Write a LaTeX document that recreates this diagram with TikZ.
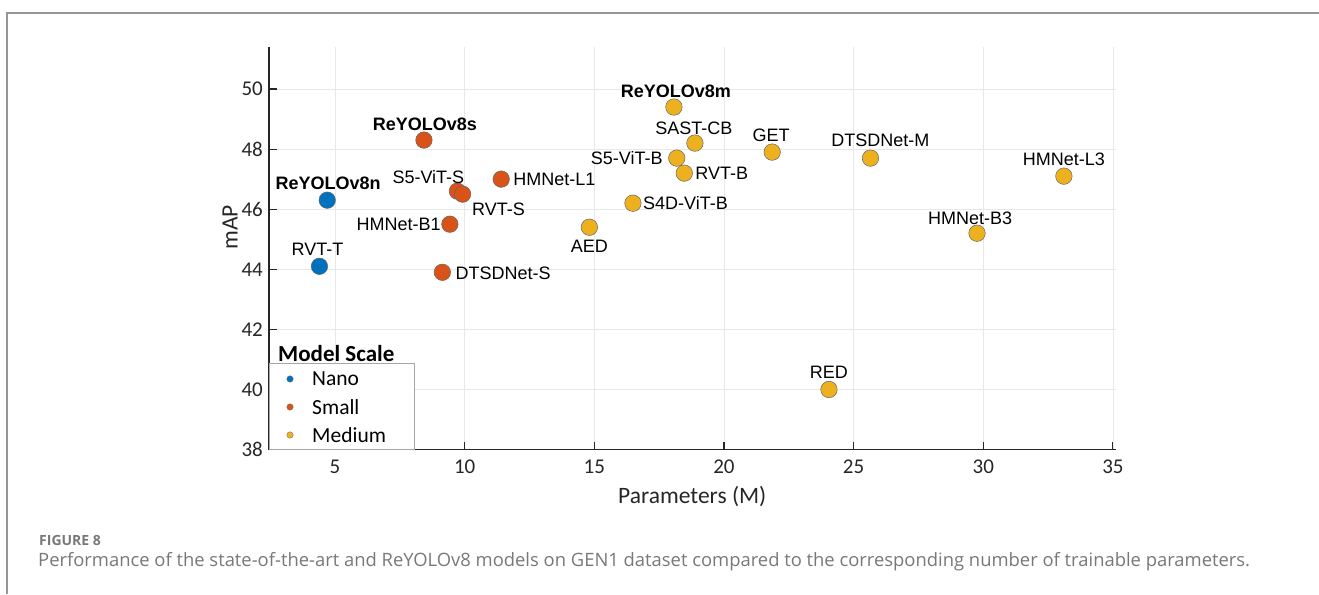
\documentclass[tikz,border=0pt]{standalone}
\usepackage{fontspec}
\usetikzlibrary{calc}
\newfontfamily\labfont{Liberation Sans}
\newfontfamily\axfont{Carlito}
\newfontfamily\capfont{Open Sans}
\definecolor{mnano}{RGB}{0,114,189}
\definecolor{msmall}{RGB}{217,83,25}
\definecolor{mmedium}{RGB}{237,177,32}
\definecolor{axiscol}{RGB}{38,38,38}
\definecolor{gridcol}{RGB}{232,232,232}
\definecolor{framecol}{RGB}{150,150,150}
\definecolor{captcol}{RGB}{120,120,120}
\tikzset{
  pt/.style={circle, draw=black!60, line width=0.5pt, minimum size=16.5pt, inner sep=0pt},
  nano/.style={pt, fill=mnano},
  small/.style={pt, fill=msmall},
  medium/.style={pt, fill=mmedium},
  lab/.style={font=\labfont\fontsize{18}{20}\selectfont, inner sep=0pt, text=black},
  blab/.style={lab, font=\labfont\bfseries\fontsize{18}{20}\selectfont},
  ticklab/.style={font=\axfont\fontsize{21}{23}\selectfont, text=axiscol, inner sep=0pt},
  axlab/.style={font=\axfont\fontsize{23.5}{26}\selectfont, text=axiscol, inner sep=0pt},
  legdot/.style={circle, draw=black!60, line width=0.3pt, minimum size=6.5pt, inner sep=0pt},
  legtxt/.style={font=\axfont\fontsize{21.5}{24}\selectfont, text=black, inner sep=0pt, anchor=west},
}
\begin{document}
\begin{tikzpicture}[x=1pt, y=1pt]
\useasboundingbox (0,0) rectangle (1319,594);
% page frame
\draw[framecol, line width=2pt] (7,0) -- (7,581) -- (1319,581);

\begin{scope}[x=25.93pt, y=30.05pt, shift={(205.35pt,-997.5pt)}]
  % grid
  \foreach \gx in {5,10,...,35}
    \draw[gridcol, line width=0.8pt] (\gx,38) -- (\gx,51.4);
  \foreach \gy in {38,40,...,50}
    \draw[gridcol, line width=0.8pt] (2.455,\gy) -- (35.1,\gy);
  % axes
  \coordinate (orig) at (2.455,38);
  \coordinate (xend) at (35.1,38);
  \coordinate (yend) at (2.455,51.4);
  \draw[axiscol, line width=1.1pt] (yend) -- (orig) -- (xend);
  \foreach \gx in {5,10,...,35} {
    \draw[axiscol, line width=1.1pt] (\gx,38) -- ++(0,8pt);
    \node[ticklab] (xt\gx) at ($(\gx,38)+(0,-17pt)$) {\gx};
  }
  \foreach \gy in {38,40,...,50} {
    \draw[axiscol, line width=1.1pt] (2.455,\gy) -- ++(8pt,0);
    \node[ticklab, anchor=east] (yt\gy) at ($(2.455,\gy)+(-6pt,0)$) {\gy};
  }
  \node[axlab] (xlabel) at ($(orig)!0.5!(xend)+(0,-47pt)$) {Parameters (M)};
  \node[axlab, rotate=90] (ylabel) at (0.95,45.4) {mAP};

  % data points
  \node[nano] (yn) at (4.7,46.3) {};
  \node[nano] (rvtt) at (4.4,44.1) {};
  \node[small] (ys) at (8.43,48.3) {};
  \node[small] (s5s) at (9.72,46.6) {};
  \node[small] (rvts) at (9.92,46.5) {};
  \node[small] (hmb1) at (9.43,45.5) {};
  \node[small] (hml1) at (11.41,47.0) {};
  \node[small] (dtss) at (9.14,43.9) {};
  \node[medium] (aed) at (14.81,45.4) {};
  \node[medium] (s4db) at (16.49,46.2) {};
  \node[medium] (ym) at (18.07,49.4) {};
  \node[medium] (sast) at (18.88,48.2) {};
  \node[medium] (s5b) at (18.18,47.7) {};
  \node[medium] (rvtb) at (18.47,47.2) {};
  \node[medium] (get) at (21.86,47.9) {};
  \node[medium] (dtsm) at (25.65,47.7) {};
  \node[medium] (hml3) at (33.11,47.1) {};
  \node[medium] (hmb3) at (29.76,45.2) {};
  \node[medium] (red) at (24.05,40.0) {};

  % point labels
  \node[blab] (l-yn) at ($(yn)+(1pt,17pt)$) {ReYOLOv8n};
  \node[lab] (l-rvtt) at ($(rvtt)+(-2pt,17pt)$) {RVT-T};
  \node[blab] (l-ys) at ($(ys)+(1pt,16pt)$) {ReYOLOv8s};
  \node[lab] (l-s5s) at ($(s5s)+(-29pt,14pt)$) {S5-ViT-S};
  \node[lab] (l-rvts) at ($(rvts)+(36pt,-15pt)$) {RVT-S};
  \node[lab, anchor=east] (l-hmb1) at ($(hmb1)+(-9pt,0)$) {HMNet-B1};
  \node[lab, anchor=west] (l-hml1) at ($(hml1)+(12pt,0)$) {HMNet-L1};
  \node[lab, anchor=west] (l-dtss) at ($(dtss)+(13pt,-1pt)$) {DTSDNet-S};
  \node[lab] (l-aed) at ($(aed)+(0,-19pt)$) {AED};
  \node[lab, anchor=west] (l-s4db) at ($(s4db)+(10pt,0)$) {S4D-ViT-B};
  \node[blab] (l-ym) at ($(ym)+(2pt,16pt)$) {ReYOLOv8m};
  \node[lab] (l-sast) at ($(sast)+(-1pt,15pt)$) {SAST-CB};
  \node[lab, anchor=east] (l-s5b) at ($(s5b)+(-14pt,0)$) {S5-ViT-B};
  \node[lab, anchor=west] (l-rvtb) at ($(rvtb)+(11pt,0)$) {RVT-B};
  \node[lab] (l-get) at ($(get)+(-1pt,17pt)$) {GET};
  \node[lab] (l-dtsm) at ($(dtsm)+(10pt,18pt)$) {DTSDNet-M};
  \node[lab] (l-hml3) at ($(hml3)+(0,17pt)$) {HMNet-L3};
  \node[lab] (l-hmb3) at ($(hmb3)+(-7pt,15pt)$) {HMNet-B3};
  \node[lab] (l-red) at ($(red)+(0,17pt)$) {RED};
\end{scope}

% legend
\node[draw=black!35, fill=white, line width=0.8pt, minimum width=145pt, minimum height=86pt, anchor=south west, inner sep=0pt] (legend) at (269,144) {};
\node[font=\axfont\bfseries\fontsize{23}{26}\selectfont, inner sep=0pt, anchor=west] (legtitle) at (278,240) {Model Scale};
\node[legdot, fill=mnano] (ld1) at (290,215) {};
\node[legtxt] (lt1) at (312,215) {Nano};
\node[legdot, fill=msmall] (ld2) at (290,187) {};
\node[legtxt] (lt2) at (312,187) {Small};
\node[legdot, fill=mmedium] (ld3) at (290,159) {};
\node[legtxt] (lt3) at (312,159) {Medium};

% caption
\node[font=\capfont\bfseries\fontsize{14}{16}\selectfont, text=captcol, anchor=west, inner sep=0pt] (figno) at (39,53) {FIGURE 8};
\node[font=\capfont\fontsize{18.4}{21}\selectfont, text=captcol, anchor=west, inner sep=0pt] (caption) at (38,32) {Performance of the state-of-the-art and ReYOLOv8 models on GEN1 dataset compared to the corresponding number of trainable parameters.};
\end{tikzpicture}
\end{document}
